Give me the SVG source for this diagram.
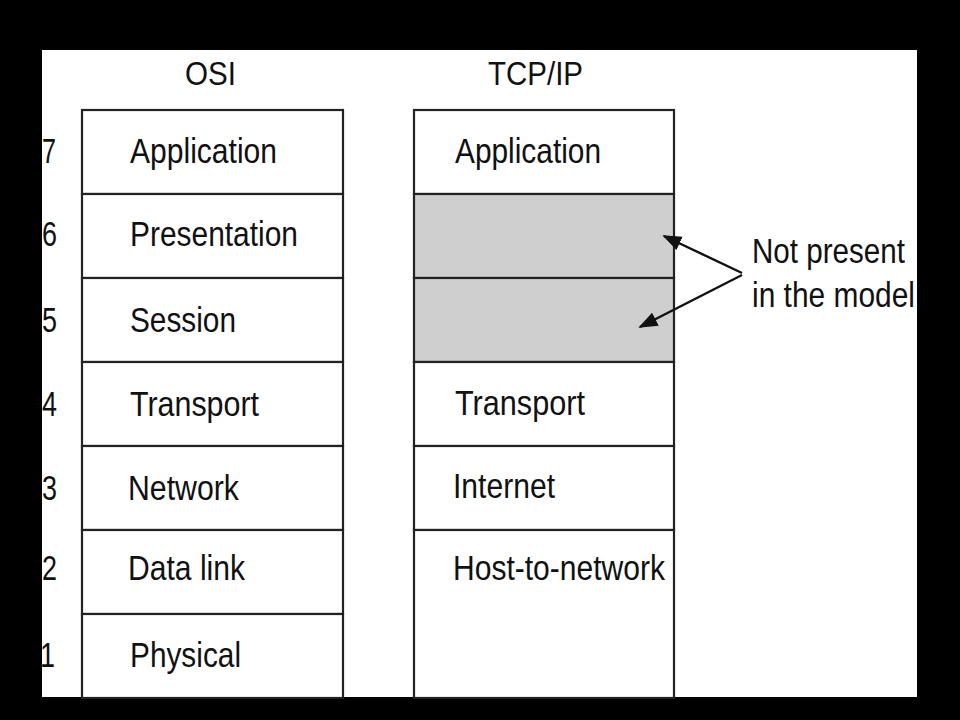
<svg xmlns="http://www.w3.org/2000/svg" width="960" height="720" viewBox="0 0 960 720">
<style>
.t{font-family:"Liberation Sans",Arial,sans-serif;font-size:35px;fill:#111}
.h{font-family:"Liberation Sans",Arial,sans-serif;font-size:33px;fill:#111}
.box{fill:#fff;stroke:#222;stroke-width:2.2}
.gray{fill:#cfcfcf;stroke:#222;stroke-width:2.2}
.ln{stroke:#111;stroke-width:2.4;fill:none}
</style>
<defs>
<marker id="ah" viewBox="0 0 10 10" refX="9" refY="5" markerWidth="8" markerHeight="8" markerUnits="strokeWidth" orient="auto">
<path d="M0,1.2 L10,5 L0,8.8 z" fill="#111"/>
</marker>
</defs>
<rect x="0" y="0" width="960" height="720" fill="#000"/>
<rect x="42" y="50" width="875" height="647" fill="#fff"/>

<g id="titles">
<text class="h" x="185" y="85" textLength="51" lengthAdjust="spacingAndGlyphs">OSI</text>
<text class="h" x="488" y="85" textLength="95" lengthAdjust="spacingAndGlyphs">TCP/IP</text>
</g>

<g id="osi">
<g id="osi7"><rect class="box" x="82" y="110" width="261" height="84"/><text class="t" x="130" y="163" textLength="147" lengthAdjust="spacingAndGlyphs">Application</text></g>
<g id="osi6"><rect class="box" x="82" y="194" width="261" height="84"/><text class="t" x="130" y="246" textLength="168" lengthAdjust="spacingAndGlyphs">Presentation</text></g>
<g id="osi5"><rect class="box" x="82" y="278" width="261" height="84"/><text class="t" x="130" y="332" textLength="106" lengthAdjust="spacingAndGlyphs">Session</text></g>
<g id="osi4"><rect class="box" x="82" y="362" width="261" height="84"/><text class="t" x="130" y="416" textLength="129" lengthAdjust="spacingAndGlyphs">Transport</text></g>
<g id="osi3"><rect class="box" x="82" y="446" width="261" height="84"/><text class="t" x="128" y="500" textLength="111" lengthAdjust="spacingAndGlyphs">Network</text></g>
<g id="osi2"><rect class="box" x="82" y="530" width="261" height="84"/><text class="t" x="128" y="580" textLength="117" lengthAdjust="spacingAndGlyphs">Data link</text></g>
<g id="osi1"><rect class="box" x="82" y="614" width="261" height="84"/><text class="t" x="130" y="667" textLength="111" lengthAdjust="spacingAndGlyphs">Physical</text></g>
</g>

<g id="numbers">
<text class="t" x="42" y="163" textLength="14" lengthAdjust="spacingAndGlyphs">7</text>
<text class="t" x="42" y="246" textLength="15" lengthAdjust="spacingAndGlyphs">6</text>
<text class="t" x="42" y="332" textLength="15" lengthAdjust="spacingAndGlyphs">5</text>
<text class="t" x="42" y="416" textLength="15" lengthAdjust="spacingAndGlyphs">4</text>
<text class="t" x="42" y="500" textLength="15" lengthAdjust="spacingAndGlyphs">3</text>
<text class="t" x="42" y="580" textLength="15" lengthAdjust="spacingAndGlyphs">2</text>
<text class="t" x="40" y="667" textLength="15" lengthAdjust="spacingAndGlyphs">1</text>
</g>

<g id="tcpip">
<g id="tcp-app"><rect class="box" x="414" y="110" width="260" height="84"/><text class="t" x="455" y="163" textLength="146" lengthAdjust="spacingAndGlyphs">Application</text></g>
<g id="tcp-gap6"><rect class="gray" x="414" y="194" width="260" height="84"/></g>
<g id="tcp-gap5"><rect class="gray" x="414" y="278" width="260" height="84"/></g>
<g id="tcp-transport"><rect class="box" x="414" y="362" width="260" height="84"/><text class="t" x="455" y="415" textLength="130" lengthAdjust="spacingAndGlyphs">Transport</text></g>
<g id="tcp-internet"><rect class="box" x="414" y="446" width="260" height="84"/><text class="t" x="453" y="498" textLength="102" lengthAdjust="spacingAndGlyphs">Internet</text></g>
<g id="tcp-host"><rect class="box" x="414" y="530" width="260" height="168"/><text class="t" x="453" y="580" textLength="212" lengthAdjust="spacingAndGlyphs">Host-to-network</text></g>
</g>

<g id="note">
<text class="t" x="752" y="263" textLength="153" lengthAdjust="spacingAndGlyphs">Not present</text>
<text class="t" x="752" y="307" textLength="163" lengthAdjust="spacingAndGlyphs">in the model</text>
</g>

<g id="connectors">
<line class="ln" x1="742" y1="273" x2="664" y2="236" marker-end="url(#ah)"/>
<line class="ln" x1="742" y1="275" x2="640" y2="327" marker-end="url(#ah)"/>
</g>
</svg>
